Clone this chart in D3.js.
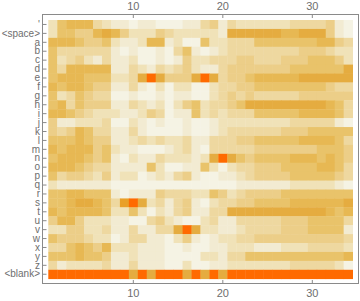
<!DOCTYPE html>
<html>
<head>
<meta charset="utf-8">
<script src="https://cdn.jsdelivr.net/npm/d3@7"></script>
<style>
  body { margin: 0; background: #fff; }
  svg { display: block; }
</style>
</head>
<body>
<div id="chart"></div>
<script>
var svgWidth = 360;
var svgHeight = 301;

// rows of the matrix, top to bottom
var rowLabels = ["'", "<space>", "a", "b", "c", "d", "e", "f", "g", "h", "i", "j", "k", "l",
  "m", "n", "o", "p", "q", "r", "s", "t", "u", "v", "w", "x", "y", "z", "<blank>"];
var columns = [1, 2, 3, 4, 5, 6, 7, 8, 9, 10, 11, 12, 13, 14, 15, 16, 17, 18, 19, 20,
  21, 22, 23, 24, 25, 26, 27, 28, 29, 30, 31, 32, 33, 34];
var xTicks = [10, 20, 30];

// intensity 0 (pale) .. 9 (orange), one array per row
var rowQuote   = [2,5,6,6,6,3,2,1,1,0,1,1, 0,0,0,1,1,3,4,1,3,2,2, 2,2,2,2,3,3,3,3,4,1,0];
var rowSpace   = [2,5,5,4,4,6,7,6,4,2,2,2, 4,3,2,2,2,2,2,1,7,7,7, 7,7,7,6,6,7,7,7,4,1,0];
var rowA       = [6,6,6,5,4,4,5,2,1,1,2,6, 6,1,2,0,0,5,2,2,3,3,3, 5,5,5,5,5,5,5,6,6,4,3];
var rowB       = [5,3,3,3,3,3,3,1,0,1,0,0, 1,0,3,5,1,0,1,2,3,3,3, 3,3,3,3,3,4,4,4,3,2,2];
var rowC       = [5,2,3,4,2,1,3,1,1,2,0,0, 1,0,1,4,2,2,3,3,3,4,4, 3,3,3,4,4,4,5,5,5,4,2];
var rowD       = [5,3,6,6,6,6,6,1,1,3,2,1, 3,2,3,4,2,1,1,3,4,4,4, 4,4,4,4,5,5,5,5,5,5,7];
var rowE       = [5,6,6,6,5,5,5,2,2,3,7,9, 7,4,4,4,7,9,7,3,4,4,5, 6,6,6,6,6,7,7,7,7,7,7];
var rowF       = [6,5,6,6,5,4,4,1,1,3,1,0, 2,0,2,2,0,0,2,3,3,4,4, 5,5,5,5,5,5,5,5,4,3,3];
var rowG       = [5,2,3,5,4,3,3,0,0,1,0,0, 1,0,1,1,0,0,2,3,4,3,4, 3,3,3,3,3,4,4,4,4,4,4];
var rowH       = [5,6,3,5,4,4,4,1,1,3,2,1, 2,0,2,4,5,2,3,3,4,5,7, 7,7,7,7,7,7,7,7,6,5,3];
var rowI       = [6,6,5,4,3,2,2,2,1,1,2,4, 3,0,1,1,5,2,3,2,3,3,3, 5,5,5,5,5,6,6,6,6,5,3];
var rowJ       = [4,1,1,2,2,2,3,0,0,2,1,0, 1,0,0,1,0,0,1,2,2,2,2, 2,2,2,2,3,3,3,3,3,1,0];
var rowK       = [4,3,4,6,5,3,3,1,1,3,1,0, 0,0,0,1,0,0,1,2,3,3,3, 3,3,3,4,4,4,5,5,5,5,5];
var rowL       = [5,5,5,6,5,4,4,1,1,2,3,2, 3,2,2,3,1,1,3,3,3,4,4, 5,5,5,5,5,6,6,6,6,5,3];
var rowM       = [6,5,6,6,6,4,5,2,1,1,0,0, 0,1,2,3,1,0,3,3,3,3,3, 4,4,4,4,4,4,4,5,5,5,4];
var rowN       = [5,6,6,6,5,4,5,1,0,2,1,1, 3,2,2,2,1,2,7,9,7,5,4, 5,5,5,5,6,6,6,5,6,5,4];
var rowO       = [6,6,6,5,4,3,3,1,1,1,1,5, 2,0,0,1,1,5,2,0,2,3,3, 4,4,4,5,5,5,5,6,6,5,3];
var rowP       = [5,3,4,4,3,2,4,1,2,2,0,1, 2,1,3,4,1,0,0,1,1,2,3, 4,4,4,4,5,5,5,5,5,4,3];
var rowQ       = [2,1,1,1,1,1,1,0,0,0,0,0, 0,0,0,0,0,0,0,0,0,1,1, 1,1,1,1,2,2,2,2,2,1,0];
var rowR       = [5,5,6,6,5,5,5,1,0,1,1,1, 4,3,3,3,2,2,5,4,2,3,4, 4,4,4,5,5,5,5,5,5,5,5];
var rowS       = [5,5,6,7,7,6,5,3,8,9,7,2, 3,1,3,4,1,0,2,3,3,4,4, 5,5,5,5,6,6,6,6,6,6,7];
var rowT       = [6,5,6,6,6,6,5,2,2,5,2,0, 2,1,3,4,1,1,3,3,7,7,7, 7,7,7,7,7,7,7,7,6,5,6];
var rowU       = [4,6,6,4,2,2,2,1,1,0,0,3, 4,2,1,0,0,2,3,1,1,3,3, 3,3,3,4,4,4,5,5,5,5,3];
var rowV       = [2,2,4,4,2,2,3,1,1,3,1,1, 3,3,7,9,7,2,2,1,1,2,3, 3,3,3,4,4,4,5,5,5,5,1];
var rowW       = [5,4,4,4,3,2,2,0,1,3,3,1, 1,0,2,4,1,0,1,2,2,3,3, 4,4,4,4,4,4,4,4,4,4,3];
var rowX       = [3,3,5,6,5,4,6,2,2,2,1,1, 1,0,0,1,0,0,1,1,2,2,2, 1,1,1,2,2,2,3,3,3,3,2];
var rowY       = [5,5,5,6,5,5,4,1,1,2,1,1, 1,0,0,0,0,2,2,1,3,3,5, 5,5,5,5,5,5,5,5,5,5,6];
var rowZ       = [3,1,2,2,2,2,3,1,1,3,1,1, 1,0,0,2,0,0,1,1,2,2,2, 2,2,2,2,3,3,3,3,3,2,0];
var rowBlank   = [9,9,9,9,9,9,9,9,9,7,9,7, 9,9,9,7,9,7,9,7,9,9,9, 9,9,9,9,9,9,9,9,9,9,9];

var matrix = [rowQuote, rowSpace, rowA, rowB, rowC, rowD, rowE, rowF, rowG, rowH, rowI, rowJ,
  rowK, rowL, rowM, rowN, rowO, rowP, rowQ, rowR, rowS, rowT, rowU, rowV, rowW, rowX, rowY,
  rowZ, rowBlank];

var frame = { left: 42.5, top: 14.5, right: 358.5, bottom: 283.5 };

var svg = d3.select("#chart")
  .append("svg")
  .attr("width", svgWidth)
  .attr("height", svgHeight);

var xScale = d3.scaleBand()
  .domain(columns)
  .range([48.3, 352.6]);
var yScale = d3.scaleBand()
  .domain(rowLabels)
  .range([20, 278.7]);

var color = d3.scaleLinear()
  .domain([0, 1, 2, 3, 4, 5, 6, 7, 8, 9])
  .range(["#f5f3e4", "#f2ebd2", "#f0e2b8", "#eed8a0", "#ecce88", "#e9c36a",
    "#e7b853", "#e5ac40", "#e9a028", "#ff6a00"])
  .clamp(true);

// flatten into cells
var cells = [];
matrix.forEach(function(row, i) {
  row.forEach(function(v, j) {
    cells.push({ row: rowLabels[i], col: columns[j], value: v });
  });
});

svg.append("g")
  .selectAll("rect")
  .data(cells)
  .enter()
  .append("rect")
  .attr("x", d => xScale(d.col))
  .attr("y", d => yScale(d.row))
  .attr("width", xScale.bandwidth() + 0.4)
  .attr("height", yScale.bandwidth() + 0.4)
  .attr("fill", d => color(d.value));

// frame
svg.append("rect")
  .attr("x", frame.left)
  .attr("y", frame.top)
  .attr("width", frame.right - frame.left)
  .attr("height", frame.bottom - frame.top)
  .attr("fill", "none")
  .attr("stroke", "#8a8a8a")
  .attr("stroke-width", 1);

function styleAxis(g) {
  g.select(".domain").remove();
  g.selectAll(".tick line").attr("stroke", "#8a8a8a");
  g.selectAll(".tick text")
    .attr("fill", "#6e6e6e")
    .style("font-family", "'Liberation Sans', Arial, sans-serif");
}

svg.append("g")
  .attr("transform", `translate(0, ${frame.top})`)
  .call(d3.axisTop(xScale).tickValues(xTicks).tickSize(-3.5).tickPadding(5))
  .call(styleAxis)
  .selectAll("text").style("font-size", "11px");

svg.append("g")
  .attr("transform", `translate(0, ${frame.bottom})`)
  .call(d3.axisBottom(xScale).tickValues(xTicks).tickSize(-3.5).tickPadding(5.5))
  .call(styleAxis)
  .selectAll("text").style("font-size", "11px");

svg.append("g")
  .attr("transform", `translate(${frame.left}, 0)`)
  .call(d3.axisLeft(yScale).tickSize(-4).tickPadding(2.5))
  .call(styleAxis)
  .selectAll("text").style("font-size", "10px");
</script>
</body>
</html>
